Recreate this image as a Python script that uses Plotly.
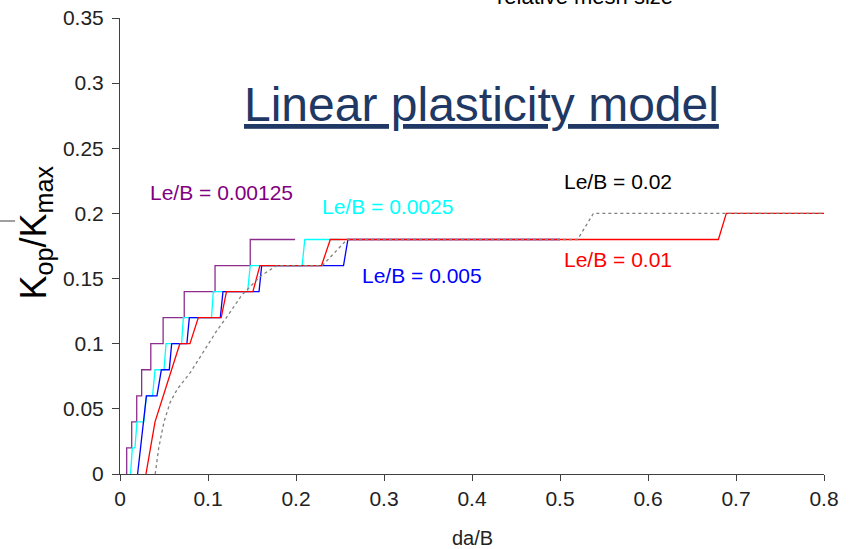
import plotly.graph_objects as go

# ---- data ----
purple_x = [0.0076, 0.0076, 0.0133, 0.0133, 0.019, 0.019, 0.0246, 0.0246, 0.035, 0.035,
            0.049, 0.049, 0.073, 0.073, 0.108, 0.108, 0.148, 0.148, 0.199]
purple_y = [0, 0.02, 0.02, 0.04, 0.04, 0.06, 0.06, 0.08, 0.08, 0.10,
            0.10, 0.12, 0.12, 0.14, 0.14, 0.16, 0.16, 0.18, 0.18]

cyan_x = [0.012, 0.014, 0.017, 0.0193, 0.027, 0.030, 0.037, 0.0398, 0.050, 0.0523,
          0.070, 0.072, 0.104, 0.106, 0.145, 0.148, 0.207, 0.210, 0.250]
cyan_y = [0, 0.02, 0.02, 0.04, 0.04, 0.06, 0.06, 0.08, 0.08, 0.10,
          0.10, 0.12, 0.12, 0.14, 0.14, 0.16, 0.16, 0.18, 0.18]

blue_x = [0.020, 0.030, 0.042, 0.047, 0.056, 0.0587, 0.076, 0.0788, 0.114, 0.117,
          0.158, 0.161, 0.254, 0.259, 0.500]
blue_y = [0, 0.06, 0.06, 0.08, 0.08, 0.10, 0.10, 0.12, 0.12, 0.14,
          0.14, 0.16, 0.16, 0.18, 0.18]

red_x = [0.0295, 0.0398, 0.068, 0.0795, 0.089, 0.115, 0.121, 0.151, 0.159, 0.229,
         0.239, 0.680, 0.689, 0.800]
red_y = [0, 0.04, 0.10, 0.10, 0.12, 0.12, 0.14, 0.14, 0.16, 0.16,
         0.18, 0.18, 0.20, 0.20]

gray_x = [0.040, 0.044, 0.050, 0.057, 0.065, 0.080, 0.110, 0.123, 0.138, 0.160,
          0.178, 0.230, 0.258, 0.520, 0.538, 0.800]
gray_y = [0, 0.02, 0.04, 0.055, 0.065, 0.078, 0.110, 0.122, 0.137, 0.152,
          0.160, 0.160, 0.180, 0.180, 0.200, 0.200]

x_ticks = [0, 0.1, 0.2, 0.3, 0.4, 0.5, 0.6, 0.7, 0.8]
x_tick_labels = ["0", "0.1", "0.2", "0.3", "0.4", "0.5", "0.6", "0.7", "0.8"]
y_ticks = [0, 0.05, 0.1, 0.15, 0.2, 0.25, 0.3, 0.35]
y_tick_labels = ["0", "0.05", "0.1", "0.15", "0.2", "0.25", "0.3", "0.35"]

series = [
    ("Le/B = 0.00125", purple_x, purple_y, "#8E2C8E", "solid"),
    ("Le/B = 0.0025", cyan_x, cyan_y, "#00FFFF", "solid"),
    ("Le/B = 0.005", blue_x, blue_y, "#0000FF", "solid"),
    ("Le/B = 0.01", red_x, red_y, "#FF0000", "solid"),
    ("Le/B = 0.02", gray_x, gray_y, "#808080", "dot"),
]

FONT = "Liberation Sans, Arial, sans-serif"

fig = go.Figure()
for name, xs, ys, col, dash in series:
    fig.add_trace(go.Scatter(x=xs, y=ys, mode="lines", name=name,
                             line=dict(color=col, width=1.3, dash=dash),
                             showlegend=False, hoverinfo="skip"))

labels = [
    ("Le/B = 0.00125", 0.115, 0.216, "#800080"),
    ("Le/B = 0.0025", 0.3045, 0.205, "#00FFFF"),
    ("Le/B = 0.005", 0.343, 0.1525, "#0000FF"),
    ("Le/B = 0.02", 0.566, 0.2245, "#000000"),
    ("Le/B = 0.01", 0.566, 0.1645, "#FF0000"),
]
for txt, x, y, col in labels:
    fig.add_annotation(x=x, y=y, xref="x", yref="y", text=txt, showarrow=False,
                       xanchor="center", yanchor="middle",
                       font=dict(family=FONT, size=21, color=col))

# title inside plot
fig.add_annotation(x=0.513, y=0.810, xref="paper", yref="paper",
                   text="<u>Linear plasticity model</u>", showarrow=False,
                   xanchor="center", yanchor="middle",
                   font=dict(family=FONT, size=48, color="#1F3864"))

# cut-off text at top
fig.add_annotation(x=0.66, y=1.047, xref="paper", yref="paper",
                   text="relative mesh size", showarrow=False,
                   xanchor="center", yanchor="middle",
                   font=dict(family=FONT, size=22, color="#000000"))

# y axis title
fig.add_annotation(x=-0.119, y=0.53, xref="paper", yref="paper",
                   text="K<sub>op</sub>/K<sub>max</sub>", showarrow=False,
                   textangle=-90, xanchor="center", yanchor="middle",
                   font=dict(family=FONT, size=36, color="#000000"))

# x axis title
fig.add_annotation(x=0.5, y=-0.1404, xref="paper", yref="paper",
                   text="da/B", showarrow=False,
                   xanchor="center", yanchor="middle",
                   font=dict(family=FONT, size=20, color="#222222"))

# small stray line at left edge
fig.add_shape(type="line", xref="paper", yref="paper",
              x0=-0.1705, x1=-0.149, y0=0.5548, y1=0.5548,
              line=dict(color="#404040", width=1))

fig.update_layout(
    width=853, height=549,
    margin=dict(l=120, r=29, t=18, b=75),
    paper_bgcolor="white", plot_bgcolor="white",
    font=dict(family=FONT, size=21, color="#222222"),
    xaxis=dict(range=[0, 0.8], tickvals=x_ticks, ticktext=x_tick_labels,
               showgrid=False, zeroline=False, showline=True, automargin=False,
               linecolor="#404040", linewidth=1, ticks="outside",
               ticklen=6, tickcolor="#404040"),
    yaxis=dict(range=[0, 0.35], tickvals=y_ticks, ticktext=y_tick_labels,
               showgrid=False, zeroline=False, showline=True, automargin=False,
               linecolor="#404040", linewidth=1, ticks="outside",
               ticklen=7, tickcolor="#404040", ticklabelstandoff=4),
)

fig.write_html("out.html", config={"displayModeBar": False},
               post_script="document.body.style.margin='0';")
